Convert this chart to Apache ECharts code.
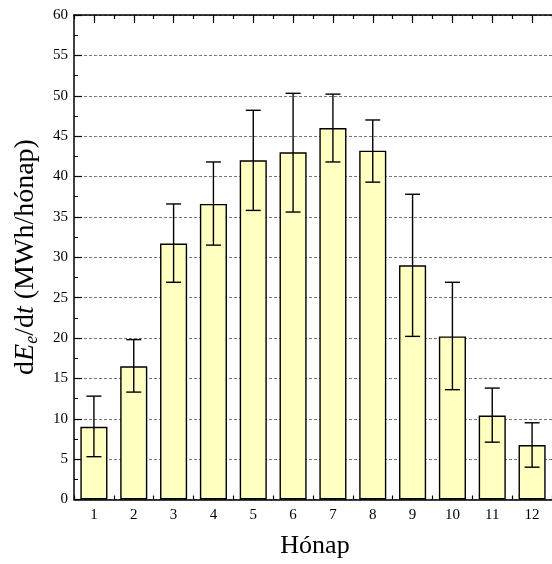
<!DOCTYPE html>
<html>
<head>
<meta charset="utf-8">
<script src="https://cdn.jsdelivr.net/npm/echarts@6/dist/echarts.min.js"></script>
<style>
html,body{margin:0;padding:0;background:#fff;}
#chart{width:552px;height:564px;}
</style>
</head>
<body>
<div id="chart"></div>
<script>
const months = ['1','2','3','4','5','6','7','8','9','10','11','12'];
const values = [9.0, 16.5, 31.7, 36.6, 42.0, 43.0, 46.0, 43.2, 29.0, 20.2, 10.4, 6.75];
const errLow = [5.3, 13.3, 26.9, 31.5, 35.8, 35.6, 41.8, 39.3, 20.2, 13.6, 7.1, 4.0];
const errHigh = [12.8, 19.8, 36.6, 41.8, 48.2, 50.3, 50.2, 47.0, 37.8, 26.9, 13.8, 9.5];
const yTicks = {min: 0, max: 60, step: 5};

const FONT = 'Liberation Serif';
const chart = echarts.init(document.getElementById('chart'), null, {renderer: 'canvas'});

const errData = months.map((m, i) => [i, errLow[i], errHigh[i]]);

function catAxis(pos, major, showLabel) {
  return {
    type: 'category', data: months, position: pos, gridIndex: 0,
    axisLine: {show: major, lineStyle: {color: '#000', width: 1.5}},
    axisTick: {show: true, inside: true, alignWithLabel: major, length: major ? 8 : 4,
               lineStyle: {color: '#000', width: 1.2}},
    axisLabel: {show: showLabel, color: '#000', fontFamily: FONT, fontSize: 15, margin: 8},
    splitLine: {show: false}
  };
}

const option = {
  animation: false,
  backgroundColor: '#fff',
  grid: {left: 74, top: 15, width: 486, height: 484.5, containLabel: false},
  xAxis: [
    catAxis('bottom', true, true),
    catAxis('bottom', false, false),
    catAxis('top', true, false),
    catAxis('top', false, false)
  ],
  yAxis: {
    type: 'value', min: yTicks.min, max: yTicks.max, interval: yTicks.step,
    axisLine: {show: true, lineStyle: {color: '#000', width: 1.5}},
    axisTick: {show: true, inside: true, length: 8, lineStyle: {color: '#000', width: 1.2}},
    minorTick: {show: true, splitNumber: 2, length: 4, lineStyle: {color: '#000', width: 1}},
    axisLabel: {color: '#000', fontFamily: FONT, fontSize: 15, margin: 6},
    splitLine: {show: true, lineStyle: {color: '#777', type: [3, 2], width: 1}}
  },
  graphic: [
    {
      type: 'text', rotation: Math.PI / 2,
      x: 26, y: 257,
      style: {
        text: '{a|d}{i|E}{s|e}{a|/d}{i|t}{a| (MWh/hónap)}',
        align: 'center', verticalAlign: 'middle',
        rich: {
          a: {fontFamily: FONT, fontSize: 28, fill: '#000'},
          i: {fontFamily: FONT, fontSize: 28, fontStyle: 'italic', fill: '#000'},
          s: {fontFamily: FONT, fontSize: 18, fontStyle: 'italic', fill: '#000', padding: [13, 0, 0, 0]}
        }
      }
    },
    {
      type: 'text', x: 315, y: 546,
      style: {text: 'Hónap', fontFamily: FONT, fontSize: 26, fill: '#000', align: 'center', verticalAlign: 'middle'}
    }
  ],
  series: [
    {
      type: 'bar', data: values, xAxisIndex: 0, barWidth: '68%',
      itemStyle: {color: '#FFFFC2', borderColor: '#000', borderWidth: 1.4},
      z: 2
    },
    {
      type: 'custom', xAxisIndex: 0, data: errData, z: 3,
      renderItem: function (params, api) {
        const x = api.value(0);
        const lo = api.coord([x, api.value(1)]);
        const hi = api.coord([x, api.value(2)]);
        const hw = 7.5;
        const st = {stroke: '#000', lineWidth: 1.4};
        return {
          type: 'group',
          children: [
            {type: 'line', shape: {x1: lo[0], y1: lo[1], x2: hi[0], y2: hi[1]}, style: st},
            {type: 'line', shape: {x1: hi[0] - hw, y1: hi[1], x2: hi[0] + hw, y2: hi[1]}, style: st},
            {type: 'line', shape: {x1: lo[0] - hw, y1: lo[1], x2: lo[0] + hw, y2: lo[1]}, style: st}
          ]
        };
      }
    }
  ]
};
chart.setOption(option);
</script>
</body>
</html>
